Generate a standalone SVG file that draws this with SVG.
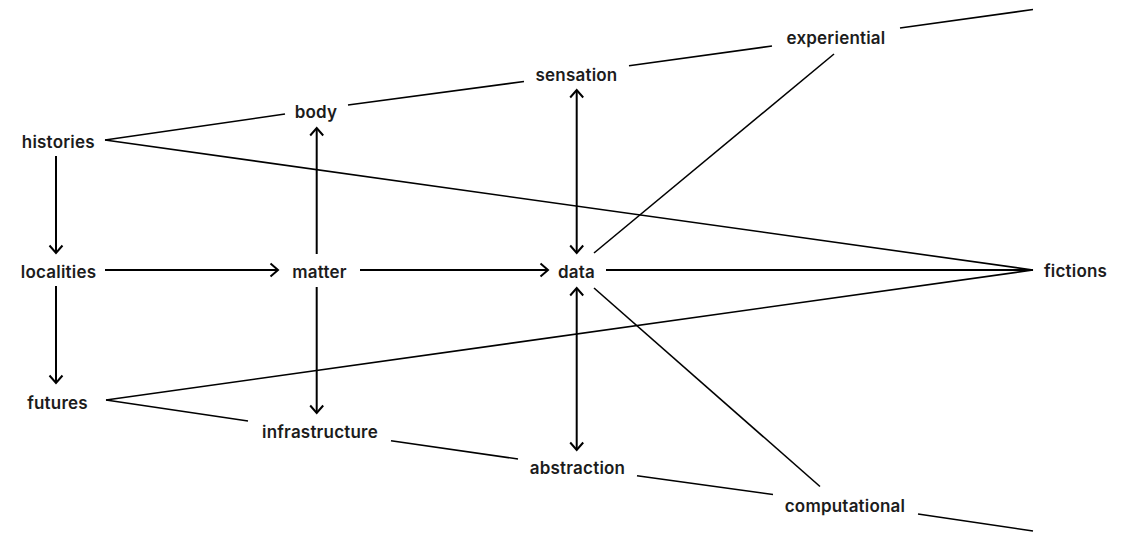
<svg xmlns="http://www.w3.org/2000/svg" width="1122" height="533" viewBox="0 0 1122 533">
<style>
text{font-family:Inter,"Liberation Sans",sans-serif;font-size:17px;font-weight:600;letter-spacing:0.2px;fill:#1c1c1c;text-anchor:middle}
.a{stroke:#000;stroke-width:2;fill:none}
.l{stroke:#000;stroke-width:1.6;fill:none}
</style>
<defs>
<marker id="ah" markerUnits="userSpaceOnUse" markerWidth="16" markerHeight="16" viewBox="0 0 16 16" refX="9" refY="8" orient="auto-start-reverse">
<path d="M1.5,1.5 L9,8 L1.5,14.5" fill="none" stroke="#000" stroke-width="2"/>
</marker>
</defs>
<rect width="1122" height="533" fill="#fff"/>
<g id="connectors">
<path class="a" d="M56,156 L56,253" marker-end="url(#ah)"/>
<path class="a" d="M56,286 L56,383" marker-end="url(#ah)"/>
<path class="a" d="M105,270 L278,270" marker-end="url(#ah)"/>
<path class="a" d="M360,270 L548,270" marker-end="url(#ah)"/>
<path class="a" d="M316.7,254 L316.7,128" marker-end="url(#ah)"/>
<path class="a" d="M316.7,287 L316.7,413" marker-end="url(#ah)"/>
<path class="a" d="M576.7,90 L576.7,253" marker-start="url(#ah)" marker-end="url(#ah)"/>
<path class="a" d="M576.7,288 L576.7,450" marker-start="url(#ah)" marker-end="url(#ah)"/>
<path class="l" d="M105,140 L285,114"/>
<path class="l" d="M348,105 L524,81.5"/>
<path class="l" d="M629,65.7 L772,46"/>
<path class="l" d="M900,28 L1033,9.5"/>
<path class="l" d="M105,140 L1033,270"/>
<path class="a" d="M606,270 L1033,270"/>
<path class="l" d="M594,253 L834,54"/>
<path class="l" d="M594,288 L820,486.5"/>
<path class="l" d="M106,400 L1033,270"/>
<path class="l" d="M106,400 L248,421"/>
<path class="l" d="M391,440.7 L518,459"/>
<path class="l" d="M637,475.7 L773,494.5"/>
<path class="l" d="M918,514 L1033,531"/>
</g>
<g id="histories"><text x="58.3" y="148">histories</text></g>
<g id="localities"><text x="58.5" y="278">localities</text></g>
<g id="futures"><text x="57.5" y="409">futures</text></g>
<g id="body"><text x="316" y="118">body</text></g>
<g id="matter"><text x="319.5" y="278">matter</text></g>
<g id="infrastructure"><text x="320" y="438">infrastructure</text></g>
<g id="sensation"><text x="576.5" y="80.5">sensation</text></g>
<g id="data"><text x="576.5" y="277.5">data</text></g>
<g id="abstraction"><text x="577.5" y="474">abstraction</text></g>
<g id="experiential"><text x="836" y="43.5">experiential</text></g>
<g id="computational"><text x="845" y="511.5">computational</text></g>
<g id="fictions"><text x="1075.5" y="277">fictions</text></g>
</svg>
